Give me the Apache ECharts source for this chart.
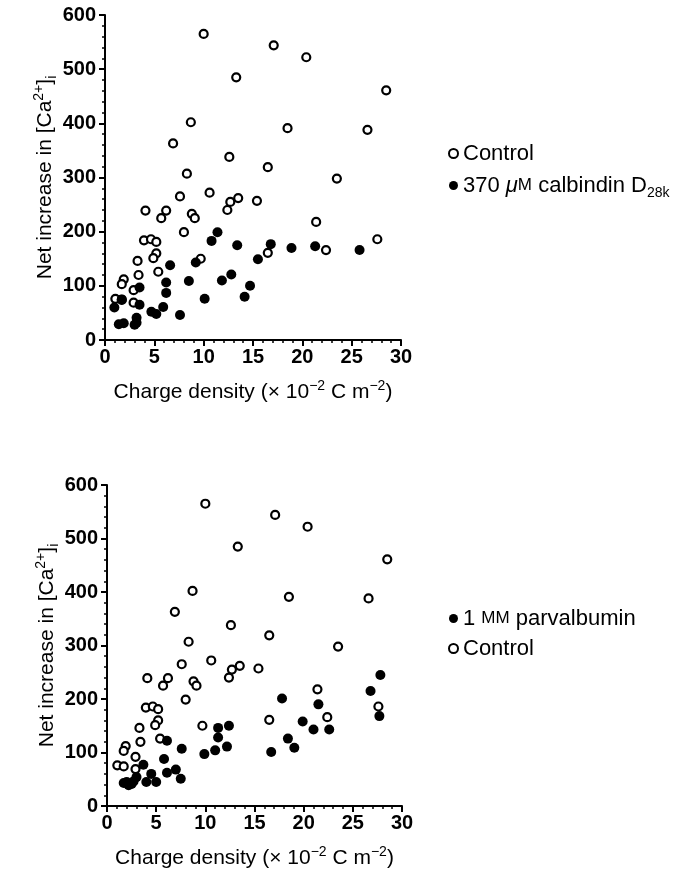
<!DOCTYPE html>
<html>
<head>
<meta charset="utf-8">
<script src="https://cdn.jsdelivr.net/npm/echarts@6/dist/echarts.min.js"></script>
<style>html,body{margin:0;padding:0;background:#fff}#c{width:675px;height:875px}</style>
</head>
<body>
<div id="c"></div>
<script>
// Control points (same set in both panels): [charge density, net increase]
var controlPoints = [
  [10.0,565],[13.3,485],[8.7,402],[6.9,363],[12.6,338],[8.3,307],
  [17.1,544],[20.4,522],[28.5,461],[18.5,391],[26.6,388],[16.5,319],[23.5,298],
  [15.4,257],[21.4,218],[16.5,161],[22.4,166],[27.6,186],
  [7.6,265],[10.6,272],[12.7,255],[13.5,262],[12.4,240],[4.1,239],[6.2,239],
  [5.7,225],[8.8,233],[9.1,225],[8.0,199],[3.95,184],[4.66,186],[5.2,181],
  [5.2,160],[4.9,151],[3.3,146],[5.4,126],[3.4,120],[1.9,112],[1.7,103],
  [2.9,92],[1.05,76],[1.7,74],[2.9,69],[9.7,150]
];
// 370 uM calbindin D28k points
var calbindinPoints = [
  [16.8,177],[15.5,149],[18.9,170],[21.3,173],[25.8,166],[14.7,100],
  [11.4,199],[10.8,183],[13.4,175],[9.2,143],[6.6,138],[6.2,106],[6.2,87],
  [8.5,109],[11.85,110],[12.8,121],[14.15,80],[10.1,76],[3.5,97],[1.7,75],
  [0.95,60],[3.5,65],[5.9,61],[4.7,52],[5.2,48],[7.6,46],[3.2,41],[3.2,32],
  [1.4,29],[1.9,31],[3.0,28]
];
// 1 mM parvalbumin points
var parvalbuminPoints = [
  [5.8,88],[7.6,107],[6.1,122],[3.7,77],[4.5,60],[6.1,62],[7.0,68],[7.5,51],
  [4.0,45],[5.0,45],[3.0,54],[1.7,43],[2.2,39],[2.5,41],[2.0,45],[2.7,46],
  [9.9,97],[11.0,104],[12.2,111],[11.3,128],[11.3,146],[12.4,150],
  [17.8,201],[16.7,101],[18.4,126],[19.05,109],[19.9,158],[21.0,143],
  [21.5,190],[22.6,143],[26.8,215],[27.8,245],[27.7,168]
];
var xTicks = [0,5,10,15,20,25,30];
var yTicks = [0,100,200,300,400,500,600];

var FONT = '"Liberation Sans", Arial, Helvetica, sans-serif';
var chart = echarts.init(document.getElementById('c'), null, {renderer:'canvas'});

function makeRich(fs){
  var lh = Math.round(fs*1.3);
  var small = Math.round(fs*0.65);
  return {
    sup:{fontSize:small, verticalAlign:'top', lineHeight:lh, fontFamily:FONT, color:'#000'},
    sub:{fontSize:small, verticalAlign:'bottom', lineHeight:lh, fontFamily:FONT, color:'#000'},
    it:{fontSize:fs, fontStyle:'italic', fontFamily:FONT, color:'#000', lineHeight:lh},
    sc:{fontSize:Math.round(fs*0.75), fontFamily:FONT, color:'#000', lineHeight:lh}
  };
}
function textStyle(fs){
  return {fontSize:fs, fontFamily:FONT, color:'#000', lineHeight:Math.round(fs*1.3), rich:makeRich(fs)};
}

function xAxis(gi){
  return {
    type:'value', gridIndex:gi, min:xTicks[0], max:xTicks[xTicks.length-1], interval:5,
    axisLine:{show:true, onZero:false, lineStyle:{color:'#000', width:2}},
    axisTick:{show:true, inside:false, length:6, lineStyle:{color:'#000', width:2}},
    minorTick:{show:true, splitNumber:5, length:3, lineStyle:{color:'#000', width:1.5}},
    splitLine:{show:false},
    axisLabel:{margin:7, fontSize:20, fontWeight:'bold', fontFamily:FONT, color:'#000'},
    name:'Charge density (× 10{sup|−2} C m{sup|−2})',
    nameLocation:'middle', nameGap:39,
    nameTextStyle:textStyle(21)
  };
}
function yAxis(gi){
  return {
    type:'value', gridIndex:gi, min:yTicks[0], max:yTicks[yTicks.length-1], interval:100,
    axisLine:{show:true, onZero:false, lineStyle:{color:'#000', width:2}},
    axisTick:{show:true, inside:false, length:6, lineStyle:{color:'#000', width:2}},
    minorTick:{show:true, splitNumber:5, length:3, lineStyle:{color:'#000', width:1.5}},
    splitLine:{show:false},
    axisLabel:{margin:9, fontSize:20, fontWeight:'bold', fontFamily:FONT, color:'#000'},
    name:'Net increase in [Ca{sup|2+}]{sub|i}',
    nameLocation:'middle', nameGap:46, nameRotate:90,
    nameTextStyle:textStyle(21)
  };
}

var openStyle = {color:'#fff', borderColor:'#000', borderWidth:2.2, opacity:1};
var fillStyle = {color:'#000', borderColor:'#000', borderWidth:0, opacity:1};

chart.setOption({
  animation:false,
  backgroundColor:'#fff',
  grid:[
    {left:105, top:15, width:296, height:325},
    {left:107, top:485, width:295, height:321}
  ],
  xAxis:[xAxis(0), xAxis(1)],
  yAxis:[yAxis(0), yAxis(1)],
  legend:[
    {
      orient:'vertical', left:443, top:134, itemGap:3, itemWidth:9, itemHeight:9,
      textStyle:textStyle(22),
      formatter:function(n){ return n==='Control' ? 'Control' : '370 {it|μ}{sc|M} calbindin D{sub|28k}'; },
      data:[
        {name:'Control', icon:'circle', itemStyle:{color:'#fff', borderColor:'#000', borderWidth:2}},
        {name:'370 μM calbindin D28k', icon:'circle', itemStyle:{color:'#000', borderWidth:0}}
      ]
    },
    {
      orient:'vertical', left:443, top:599, itemGap:1, itemWidth:9, itemHeight:9,
      textStyle:textStyle(22),
      formatter:function(n){ return n==='Control' ? 'Control' : '1 {sc|MM} parvalbumin'; },
      data:[
        {name:'1 mM parvalbumin', icon:'circle', itemStyle:{color:'#000', borderWidth:0}},
        {name:'Control', icon:'circle', itemStyle:{color:'#fff', borderColor:'#000', borderWidth:2}}
      ]
    }
  ],
  series:[
    {name:'Control', type:'scatter', xAxisIndex:0, yAxisIndex:0, data:controlPoints,
     symbol:'circle', symbolSize:8, itemStyle:openStyle, z:2},
    {name:'370 μM calbindin D28k', type:'scatter', xAxisIndex:0, yAxisIndex:0, data:calbindinPoints,
     symbol:'circle', symbolSize:10, itemStyle:fillStyle, z:3},
    {name:'Control', type:'scatter', xAxisIndex:1, yAxisIndex:1, data:controlPoints,
     symbol:'circle', symbolSize:8, itemStyle:openStyle, z:2},
    {name:'1 mM parvalbumin', type:'scatter', xAxisIndex:1, yAxisIndex:1, data:parvalbuminPoints,
     symbol:'circle', symbolSize:10, itemStyle:fillStyle, z:3}
  ]
});
</script>
</body>
</html>
